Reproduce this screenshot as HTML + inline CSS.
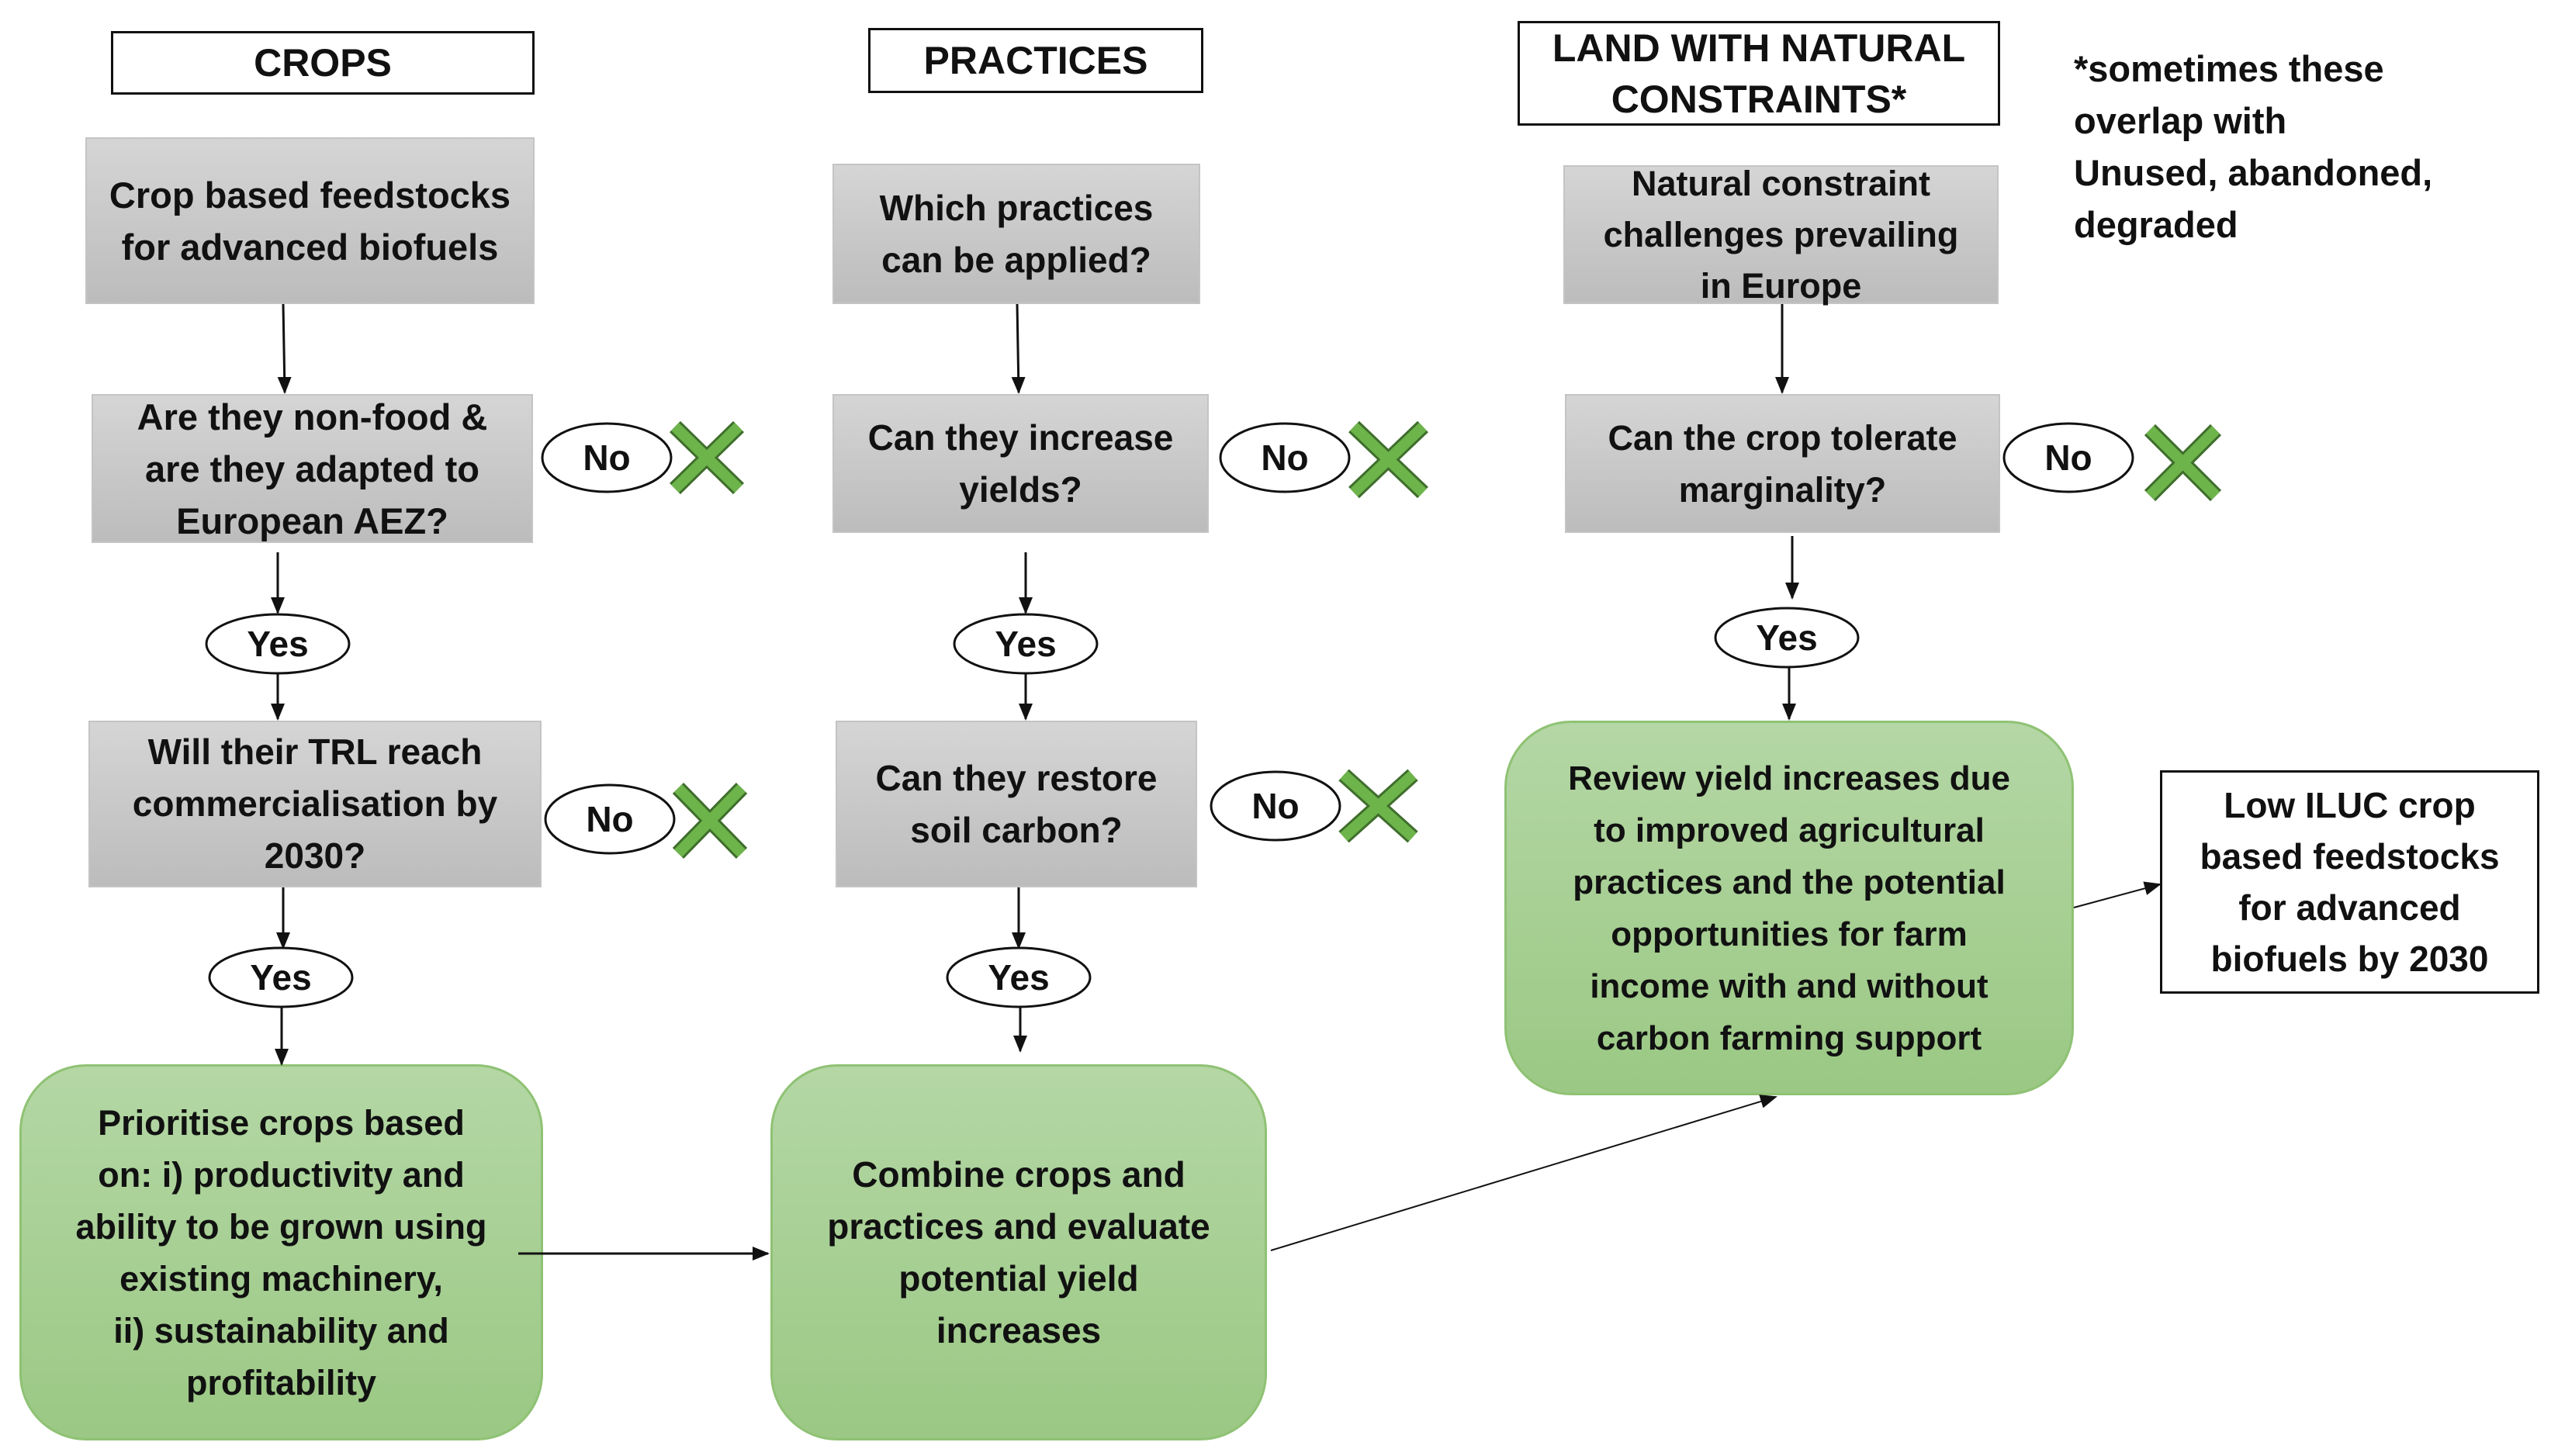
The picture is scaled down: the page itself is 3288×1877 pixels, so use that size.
<!DOCTYPE html>
<html><head><meta charset="utf-8"><style>
*{margin:0;padding:0;box-sizing:border-box}
body{width:3288px;height:1877px;background:#fff;position:relative;overflow:hidden;font-family:"Liberation Sans",sans-serif;font-weight:bold;color:#111}
.b{position:absolute;display:flex;align-items:center;justify-content:center;text-align:center;white-space:nowrap}
.h{border:3px solid #111;background:#fff;font-size:50px;line-height:60px}
.g{background:linear-gradient(#d5d5d5,#bcbcbc);border:2px solid #c4c4c4;font-size:46px;line-height:67px}
.gr{background:linear-gradient(#b4d7a5,#9bc884);border:3px solid #8fc274;border-radius:86px;font-size:46px;line-height:67px}
</style></head><body>
<div class="b h" style="left:143px;top:40px;width:546px;height:82px">CROPS</div>
<div class="b h" style="left:1119px;top:36px;width:432px;height:84px">PRACTICES</div>
<div class="b h" style="left:1956px;top:27px;width:622px;height:135px;line-height:66px">LAND WITH NATURAL<br>CONSTRAINTS*</div>
<div style="position:absolute;left:2673px;top:55px;font-size:47px;line-height:67px;white-space:nowrap">*sometimes these<br>overlap with<br>Unused, abandoned,<br>degraded</div>

<div class="b g" style="left:110px;top:177px;width:579px;height:215px;font-size:47px">Crop based feedstocks<br>for advanced biofuels</div>
<div class="b g" style="left:118px;top:508px;width:569px;height:192px;font-size:47px">Are they non-food &amp;<br>are they adapted to<br>European AEZ?</div>
<div class="b g" style="left:114px;top:929px;width:584px;height:215px;font-size:46px">Will their TRL reach<br>commercialisation by<br>2030?</div>
<div class="b gr" style="left:25px;top:1372px;width:675px;height:485px;font-size:45px">Prioritise crops based<br>on: i) productivity and<br>ability to be grown using<br>existing machinery,<br>ii) sustainability and<br>profitability</div>

<div class="b g" style="left:1073px;top:211px;width:474px;height:181px;font-size:46px">Which practices<br>can be applied?</div>
<div class="b g" style="left:1073px;top:508px;width:485px;height:179px;font-size:46px">Can they increase<br>yields?</div>
<div class="b g" style="left:1077px;top:929px;width:466px;height:215px;font-size:46px">Can they restore<br>soil carbon?</div>
<div class="b gr" style="left:993px;top:1372px;width:640px;height:485px;font-size:46px">Combine crops and<br>practices and evaluate<br>potential yield<br>increases</div>

<div class="b g" style="left:2015px;top:213px;width:561px;height:179px;font-size:45px;line-height:66px">Natural constraint<br>challenges prevailing<br>in Europe</div>
<div class="b g" style="left:2017px;top:508px;width:561px;height:179px;font-size:45px">Can the crop tolerate<br>marginality?</div>
<div class="b gr" style="left:1939px;top:929px;width:734px;height:483px;font-size:44px">Review yield increases due<br>to improved agricultural<br>practices and the potential<br>opportunities for farm<br>income with and without<br>carbon farming support</div>
<div class="b h" style="left:2784px;top:993px;width:489px;height:288px;font-size:46px;line-height:66px">Low ILUC crop<br>based feedstocks<br>for advanced<br>biofuels by 2030</div>

<svg width="3288" height="1877" style="position:absolute;left:0;top:0" xmlns="http://www.w3.org/2000/svg">
<defs>
<marker id="m" markerWidth="22" markerHeight="22" refX="20" refY="11" orient="auto" markerUnits="userSpaceOnUse"><path d="M0,2L22,11L0,20z" fill="#111"/></marker></defs>
<g stroke="#111" stroke-width="3" marker-end="url(#m)">
<line x1="365" y1="392" x2="367" y2="506"/>
<line x1="358" y1="712" x2="358" y2="790"/>
<line x1="358" y1="868" x2="358" y2="927"/>
<line x1="365" y1="1144" x2="365" y2="1222"/>
<line x1="363" y1="1298" x2="363" y2="1372"/>
<line x1="1311" y1="392" x2="1313" y2="506"/>
<line x1="1322" y1="712" x2="1322" y2="790"/>
<line x1="1322" y1="868" x2="1322" y2="927"/>
<line x1="1313" y1="1144" x2="1313" y2="1222"/>
<line x1="1315" y1="1298" x2="1315" y2="1355"/>
<line x1="2297" y1="392" x2="2297" y2="506"/>
<line x1="2310" y1="691" x2="2310" y2="771"/>
<line x1="2306" y1="860" x2="2306" y2="927"/>
<line x1="668" y1="1616" x2="990" y2="1616"/>
</g>
<g stroke="#111" stroke-width="2" marker-end="url(#m)">
<line x1="1638" y1="1612" x2="2289" y2="1414"/>
<line x1="2673" y1="1170" x2="2784" y2="1140"/>
</g>
<g fill="#fff" stroke="#111" stroke-width="3">
<ellipse cx="782" cy="590" rx="83" ry="44"/>
<ellipse cx="786" cy="1056" rx="83" ry="44"/>
<ellipse cx="358" cy="830" rx="92" ry="38"/>
<ellipse cx="362" cy="1260" rx="92" ry="38"/>
<ellipse cx="1656" cy="590" rx="83" ry="44"/>
<ellipse cx="1644" cy="1039" rx="83" ry="44"/>
<ellipse cx="1322" cy="830" rx="92" ry="38"/>
<ellipse cx="1313" cy="1260" rx="92" ry="38"/>
<ellipse cx="2666" cy="590" rx="83" ry="44"/>
<ellipse cx="2303" cy="822" rx="92" ry="38"/>
</g>
<g font-family="Liberation Sans, sans-serif" font-weight="bold" font-size="46" text-anchor="middle" fill="#111">
<text x="782" y="606">No</text><text x="786" y="1072">No</text>
<text x="358" y="846">Yes</text><text x="362" y="1276">Yes</text>
<text x="1656" y="606">No</text><text x="1644" y="1055">No</text>
<text x="1322" y="846">Yes</text><text x="1313" y="1276">Yes</text>
<text x="2666" y="606">No</text><text x="2303" y="838">Yes</text>
</g>
<g stroke-linecap="butt">
<g stroke="#3f6e2c" stroke-width="20">
<path d="M870,550L952,630M952,550L870,630"/>
<path d="M874,1016L956,1100M956,1016L874,1100"/>
<path d="M1745,550L1834,635M1834,550L1745,635"/>
<path d="M1732,999L1821,1079M1821,999L1732,1079"/>
<path d="M2771,554L2856,639M2856,554L2771,639"/>
</g>
<g stroke="#6db44b" stroke-width="14">
<path d="M870,550L952,630M952,550L870,630"/>
<path d="M874,1016L956,1100M956,1016L874,1100"/>
<path d="M1745,550L1834,635M1834,550L1745,635"/>
<path d="M1732,999L1821,1079M1821,999L1732,1079"/>
<path d="M2771,554L2856,639M2856,554L2771,639"/>
</g></g>
</svg>
</body></html>
